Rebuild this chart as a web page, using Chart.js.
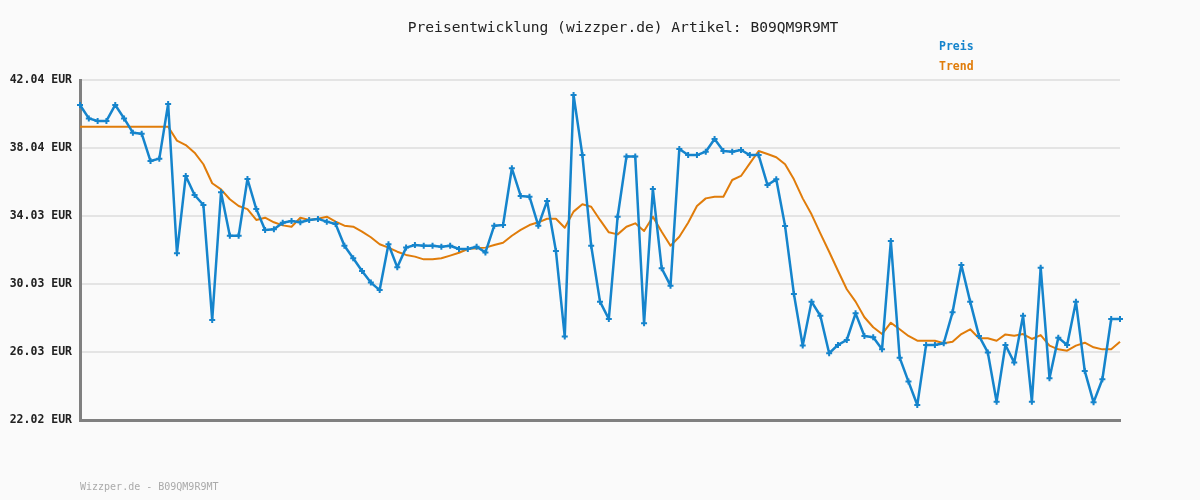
<!DOCTYPE html>
<html>
<head>
<meta charset="utf-8">
<script src="https://cdn.jsdelivr.net/npm/chart.js@4.4.1/dist/chart.umd.min.js"></script>
<style>
  html, body { margin: 0; padding: 0; background: #fafafa; }
  #wrap { width: 1200px; height: 500px; position: relative; }
</style>
</head>
<body>
<div id="wrap"><canvas id="chart" width="1200" height="500"></canvas></div>
<script>
// price history
const preis = [
  40.57, 39.78, 39.63, 39.63, 40.57, 39.78, 38.94, 38.88, 37.27, 37.41,
  40.63, 31.84, 36.39, 35.27, 34.68, 27.91, 35.43, 32.87, 32.87, 36.21,
  34.44, 33.21, 33.25, 33.64, 33.74, 33.66, 33.80, 33.86, 33.70, 33.56,
  32.28, 31.54, 30.79, 30.11, 29.67, 32.37, 31.01, 32.17, 32.32, 32.28,
  32.28, 32.22, 32.28, 32.09, 32.09, 32.22, 31.89, 33.46, 33.50, 36.84,
  35.21, 35.17, 33.46, 34.92, 31.97, 26.93, 41.16, 37.62, 32.28, 28.99,
  27.97, 33.99, 37.53, 37.53, 27.71, 35.62, 30.95, 29.93, 37.98, 37.62,
  37.62, 37.82, 38.57, 37.86, 37.82, 37.92, 37.62, 37.62, 35.86, 36.19,
  33.44, 29.44, 26.40, 28.99, 28.16, 25.95, 26.44, 26.73, 28.30, 26.97,
  26.89, 26.18, 32.56, 25.69, 24.28, 22.90, 26.44, 26.44, 26.54, 28.36,
  31.15, 28.99, 26.97, 26.00, 23.10, 26.44, 25.40, 28.16, 23.10, 30.99,
  24.48, 26.87, 26.44, 28.99, 24.91, 23.06, 24.42, 27.97, 27.97
];
const trend = [
  39.29, 39.29, 39.29, 39.29, 39.29, 39.29, 39.29, 39.29, 39.29, 39.29,
  39.29, 38.47, 38.21, 37.76, 37.08, 35.96, 35.60, 35.02, 34.62, 34.44,
  33.80, 33.93, 33.66, 33.48, 33.40, 33.93, 33.80, 33.87, 33.99, 33.70,
  33.46, 33.40, 33.11, 32.78, 32.37, 32.17, 31.93, 31.74, 31.64, 31.48,
  31.48, 31.54, 31.70, 31.87, 32.09, 32.13, 32.17, 32.32, 32.46, 32.87,
  33.21, 33.50, 33.66, 33.87, 33.87, 33.34, 34.29, 34.72, 34.58, 33.80,
  33.07, 32.95, 33.40, 33.60, 33.15, 33.99, 33.11, 32.28, 32.81, 33.64,
  34.62, 35.07, 35.17, 35.17, 36.15, 36.39, 37.13, 37.86, 37.68, 37.49,
  37.08, 36.19, 35.07, 34.13, 33.01, 31.93, 30.81, 29.72, 28.99, 28.07,
  27.48, 27.08, 27.75, 27.36, 26.97, 26.69, 26.69, 26.69, 26.54, 26.63,
  27.08, 27.36, 26.83, 26.83, 26.69, 27.06, 26.98, 27.08, 26.79, 27.02,
  26.40, 26.18, 26.10, 26.40, 26.57, 26.30, 26.18, 26.18, 26.63
];
const categories = Array.from({ length: preis.length }, (_, i) => i + 1);
const tickValues = [22.02, 26.03, 30.03, 34.03, 38.04, 42.04];
const tickLabels = ['22.02 EUR', '26.03 EUR', '30.03 EUR', '34.03 EUR', '38.04 EUR', '42.04 EUR'];

const blue = '#1584cc';
const orange = '#e07c0a';
const mono = "'DejaVu Sans Mono', 'Liberation Mono', monospace";

// title, legend and footer are drawn as plain text
const texts = {
  id: 'texts',
  afterDraw(chart) {
    const c = chart.ctx;
    c.save();
    c.textBaseline = 'middle';
    c.fillStyle = '#222';
    c.font = '14.6px ' + mono;
    c.textAlign = 'center';
    c.fillText('Preisentwicklung (wizzper.de) Artikel: B09QM9R9MT', 623, 28);
    c.textAlign = 'left';
    c.font = 'bold 11.5px ' + mono;
    c.fillStyle = blue;
    c.fillText('Preis', 939, 47);
    c.fillStyle = orange;
    c.fillText('Trend', 939, 67);
    c.font = '10px ' + mono;
    c.fillStyle = '#aaaaaa';
    c.fillText('Wizzper.de - B09QM9R9MT', 80, 487);
    c.restore();
  }
};

new Chart(document.getElementById('chart'), {
  type: 'line',
  data: {
    labels: categories,
    datasets: [
      {
        label: 'Trend',
        data: trend,
        borderColor: orange,
        borderWidth: 2,
        borderJoinStyle: 'round',
        pointRadius: 0,
        tension: 0,
        order: 2
      },
      {
        label: 'Preis',
        data: preis,
        borderColor: blue,
        backgroundColor: blue,
        borderWidth: 2.5,
        borderJoinStyle: 'round',
        pointStyle: 'cross',
        pointRadius: 3,
        pointBorderWidth: 2,
        pointBorderColor: blue,
        tension: 0,
        order: 1
      }
    ]
  },
  options: {
    responsive: false,
    animation: false,
    layout: { padding: { left: 0, top: 80, right: 80, bottom: 80 } },
    plugins: {
      legend: { display: false },
      title: { display: false },
      tooltip: { enabled: false }
    },
    scales: {
      x: {
        type: 'category',
        offset: false,
        grid: { display: false },
        border: { display: true, color: '#808080', width: 3 },
        ticks: { display: false },
        afterFit(scale) { scale.height = 0; }
      },
      y: {
        min: 22.02,
        max: 42.04,
        afterBuildTicks(scale) {
          scale.ticks = tickValues.map(v => ({ value: v }));
        },
        grid: { color: '#e4e4e4', lineWidth: 2, drawTicks: false },
        border: { display: true, color: '#808080', width: 3 },
        ticks: {
          padding: 8,
          color: '#222',
          font: { family: mono, size: 11.5, weight: 'bold' },
          callback: (v, i) => tickLabels[i]
        },
        afterFit(scale) { scale.width = 80; }
      }
    }
  },
  plugins: [texts]
});
</script>
</body>
</html>
